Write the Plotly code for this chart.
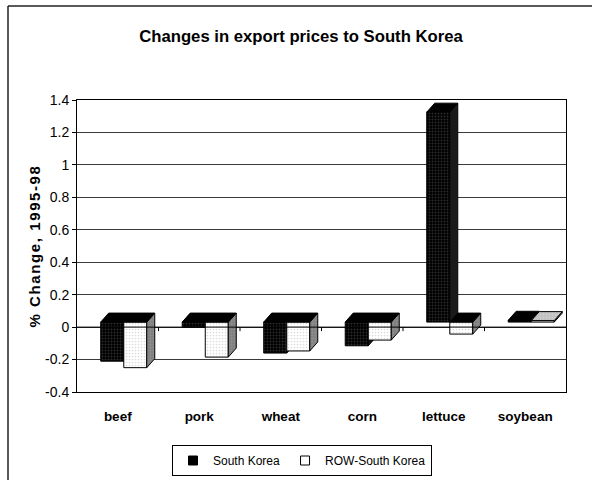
import plotly.graph_objects as go

# ---------------- data ----------------
categories = ["beef", "pork", "wheat", "corn", "lettuce", "soybean"]
south_korea = [-0.21, 0.0, -0.16, -0.115, 1.325, 0.042]
row_south_korea = [-0.25, -0.185, -0.147, -0.08, -0.043, 0.04]
series_names = ["South Korea", "ROW-South Korea"]
y_tick_values = [-0.4, -0.2, 0, 0.2, 0.4, 0.6, 0.8, 1, 1.2, 1.4]
y_tick_labels = ["-0.4", "-0.2", "0", "0.2", "0.4", "0.6", "0.8", "1", "1.2", "1.4"]
title_text = "Changes in export prices to South Korea"
y_title = "% Change, 1995-98"

# ---------------- pseudo-3D geometry (style) ----------------
FRONT_BASE = 0.031     # front face zero level
DX = 0.098             # depth offset (category units)
DY = 0.0555            # depth offset (value units)
SK_LEFT, DIVIDE, ROW_RIGHT = -0.209, 0.074, 0.356

FONT = "Liberation Sans, Arial, sans-serif"


def faces(values, left, right):
    fx, fy, sx, sy, tx, ty, topvals = [], [], [], [], [], [], []
    for i, v in enumerate(values):
        x0, x1 = i + left, i + right
        yt, yb = max(FRONT_BASE, v), min(FRONT_BASE, v)
        fx += [x0, x1, x1, x0, x0, None]
        fy += [yb, yb, yt, yt, yb, None]
        sx += [x1, x1 + DX, x1 + DX, x1, x1, None]
        sy += [yb, yb + DY, yt + DY, yt, yb, None]
        tx.append([x0, x1, x1 + DX, x0 + DX, x0, None])
        ty.append([yt, yt, yt + DY, yt + DY, yt, None])
        topvals.append(v)
    return fx, fy, sx, sy, tx, ty, topvals


def poly(x, y, fill, pattern=None):
    kw = dict(x=x, y=y, mode="lines", fill="toself", fillcolor=fill,
              line=dict(color="black", width=1), showlegend=False,
              hoverinfo="skip")
    if pattern is not None:
        kw["fillpattern"] = pattern
    return go.Scatter(**kw)


fig = go.Figure()

# South Korea
fx, fy, sx, sy, tx, ty, tv = faces(south_korea, SK_LEFT, DIVIDE)
fig.add_trace(poly(fx, fy, "black",
                   dict(shape=".", bgcolor="black", fgcolor="#5a5a5a", size=3, solidity=0.3)))
fig.add_trace(poly(sx, sy, "#1a1a1a"))
fig.add_trace(poly(sum(tx, []), sum(ty, []), "black"))

# ROW-South Korea
fx, fy, sx, sy, tx, ty, tv = faces(row_south_korea, DIVIDE, ROW_RIGHT)
fig.add_trace(poly(fx, fy, "white",
                   dict(shape=".", bgcolor="white", fgcolor="#b8b8b8", size=3, solidity=0.25)))
fig.add_trace(poly(sx, sy, "#808080",
                   dict(shape=".", bgcolor="#808080", fgcolor="#a0a0a0", size=3, solidity=0.3)))
neg_x = sum([t for t, v in zip(tx, tv) if v < FRONT_BASE], [])
neg_y = sum([t for t, v in zip(ty, tv) if v < FRONT_BASE], [])
pos_x = sum([t for t, v in zip(tx, tv) if v >= FRONT_BASE], [])
pos_y = sum([t for t, v in zip(ty, tv) if v >= FRONT_BASE], [])
fig.add_trace(poly(neg_x, neg_y, "black"))
if pos_x:
    fig.add_trace(poly(pos_x, pos_y, "#c0c0c0",
                       dict(shape=".", bgcolor="#c0c0c0", fgcolor="#e0e0e0", size=3, solidity=0.3)))

# legend entries
fig.add_trace(go.Scatter(x=[None], y=[None], mode="markers", name=series_names[0],
                         marker=dict(symbol="square", size=9, color="black",
                                     line=dict(color="black", width=1))))
fig.add_trace(go.Scatter(x=[None], y=[None], mode="markers", name=series_names[1],
                         marker=dict(symbol="square", size=9, color="white",
                                     line=dict(color="black", width=1))))

# zero (category) axis line with boundary ticks
shapes = [dict(type="line", xref="paper", yref="y", x0=0, x1=1, y0=0, y1=0,
               line=dict(color="black", width=1), layer="above")]
for i in range(len(categories) - 1):
    shapes.append(dict(type="line", xref="x", yref="y", xsizemode="scaled",
                       ysizemode="pixel", yanchor=0, x0=i + 0.5, x1=i + 0.5,
                       y0=0, y1=-4, line=dict(color="black", width=1), layer="above"))
# outer chart frame (left and top edges; the rest lies outside the picture)
fx0 = (8 - 77) / 489
fy1 = (392 - 6) / 292
shapes.append(dict(type="line", xref="paper", yref="paper", x0=fx0, x1=fx0,
                   y0=-0.4, y1=fy1, line=dict(color="#222222", width=1.5), layer="below"))
shapes.append(dict(type="line", xref="paper", yref="paper", x0=fx0, x1=1.1,
                   y0=fy1, y1=fy1, line=dict(color="#222222", width=1.5), layer="below"))

fig.update_layout(
    width=592, height=480,
    margin=dict(l=77, r=26, t=100, b=88, autoexpand=False),
    paper_bgcolor="white", plot_bgcolor="white",
    title=dict(text="<b>%s</b>" % title_text, x=301 / 592, xanchor="center",
               y=1 - 36 / 480, yanchor="middle",
               font=dict(family=FONT, size=16.7, color="black")),
    xaxis=dict(range=[-0.5, len(categories) - 0.5], tickmode="array",
               tickvals=list(range(len(categories))),
               ticktext=["<b>%s</b>" % c for c in categories],
               ticks="", showgrid=False, zeroline=False,
               showline=True, mirror=True, linecolor="black", linewidth=1,
               ticklabelstandoff=12, automargin=False,
               tickfont=dict(family=FONT, size=13.5, color="black")),
    yaxis=dict(range=[-0.4, 1.4], tickmode="array", tickvals=y_tick_values,
               ticktext=y_tick_labels, ticks="outside", ticklen=4,
               tickcolor="black", showgrid=True, gridcolor="#3a3a3a", gridwidth=1,
               zeroline=False, showline=True, mirror=True, linecolor="black",
               linewidth=1, automargin=False,
               tickfont=dict(family=FONT, size=14, color="black")),
    legend=dict(orientation="h", x=(302 - 77) / 489, y=(392 - 460.5) / 292,
                xanchor="center", yanchor="middle", bordercolor="black",
                borderwidth=1, bgcolor="white", itemwidth=30, tracegroupgap=0,
                font=dict(family=FONT, size=12, color="black")),
    annotations=[dict(text="<b>%s</b>" % y_title, xref="paper", yref="paper",
                      x=(34 - 77) / 489, y=0.5, textangle=-90, showarrow=False,
                      xanchor="center", yanchor="middle",
                      font=dict(family=FONT, size=15, color="black"))],
    shapes=shapes,
)

post = (
    "document.documentElement.style.overflow='hidden';"
    "document.body.style.margin='0';"
    "document.body.style.overflow='hidden';"
    "document.querySelectorAll('.annotation-text').forEach(function(e){"
    "e.style.letterSpacing='1.6px';});"
)
fig.write_html("out.html", post_script=post, config={"displayModeBar": False})
